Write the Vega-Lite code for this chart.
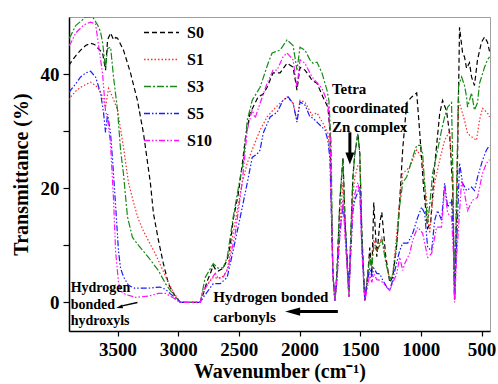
{
"$schema":"https://vega.github.io/schema/vega-lite/v6.json",
"width":421,"height":314,
"autosize":{"type":"none"},
"padding":{"left":69,"top":17,"right":8,"bottom":53},
"background":"white",
"config":{"view":{"stroke":"#a0a0a0","strokeWidth":1},"font":"Liberation Serif"},
"datasets":{
"notes":[
{"g":"zn","w":1733,"t":37.4,"txt":"Tetra"},{"g":"zn","w":1733,"t":34.0,"txt":"coordinated"},{"g":"zn","w":1733,"t":30.7,"txt":"Zn complex"},
{"g":"oh","w":3886,"t":2.5,"txt":"Hydrogen"},{"g":"oh","w":3886,"t":-0.5,"txt":"bonded"},{"g":"oh","w":3886,"t":-3.3,"txt":"hydroxyls"},
{"g":"co","w":2711,"t":0.9,"txt":"Hydrogen bonded"},{"g":"co","w":2711,"t":-2.5,"txt":"carbonyls"}],
"shafts":[
{"k":"thick","w":1585,"t":29.8,"w2":1585,"t2":26.0},
{"k":"thick","w":1684,"t":-1.6,"w2":2000,"t2":-1.6},
{"k":"thin","w":3336,"t":0.0,"w2":3462,"t2":-0.6}],
"heads":[{"k":"down","w":1585,"t":25.2},{"k":"left","w":2057,"t":-1.6},{"k":"leftdown","w":3478,"t":-0.8}],
"spec":[
{"s":"S0","w":3900,"t":41.5},{"s":"S0","w":3886,"t":42},{"s":"S0","w":3845,"t":43.2},{"s":"S0","w":3804,"t":44.2},{"s":"S0","w":3763,"t":45},{"s":"S0","w":3722,"t":45.4},{"s":"S0","w":3690,"t":45.2},{"s":"S0","w":3664,"t":44.6},{"s":"S0","w":3623,"t":43.7},{"s":"S0","w":3599,"t":40.7},{"s":"S0","w":3582,"t":46},{"s":"S0","w":3557,"t":47.2},{"s":"S0","w":3533,"t":46},{"s":"S0","w":3515,"t":46.4},{"s":"S0","w":3500,"t":46.3},{"s":"S0","w":3451,"t":44.2},{"s":"S0","w":3393,"t":40.2},{"s":"S0","w":3336,"t":35.4},{"s":"S0","w":3286,"t":29.6},{"s":"S0","w":3229,"t":20.9},{"s":"S0","w":3204,"t":15.6},{"s":"S0","w":3163,"t":10.9},{"s":"S0","w":3122,"t":6.8},{"s":"S0","w":3081,"t":3.3},{"s":"S0","w":3040,"t":1.6},{"s":"S0","w":2982,"t":0},{"s":"S0","w":2900,"t":0},{"s":"S0","w":2818,"t":0},{"s":"S0","w":2793,"t":1.5},{"s":"S0","w":2760,"t":3.8},{"s":"S0","w":2736,"t":5},{"s":"S0","w":2711,"t":6.5},{"s":"S0","w":2690,"t":5.7},{"s":"S0","w":2670,"t":5.5},{"s":"S0","w":2629,"t":6},{"s":"S0","w":2596,"t":7.5},{"s":"S0","w":2571,"t":10},{"s":"S0","w":2547,"t":14.5},{"s":"S0","w":2505,"t":19},{"s":"S0","w":2473,"t":24},{"s":"S0","w":2448,"t":28.5},{"s":"S0","w":2407,"t":33.2},{"s":"S0","w":2341,"t":36},{"s":"S0","w":2300,"t":36.5},{"s":"S0","w":2267,"t":37.7},{"s":"S0","w":2218,"t":40.2},{"s":"S0","w":2160,"t":40.2},{"s":"S0","w":2103,"t":41.9},{"s":"S0","w":2053,"t":41.2},{"s":"S0","w":2021,"t":37.2},{"s":"S0","w":1996,"t":41.2},{"s":"S0","w":1955,"t":40.7},{"s":"S0","w":1914,"t":39.5},{"s":"S0","w":1897,"t":38.9},{"s":"S0","w":1856,"t":38.4},{"s":"S0","w":1807,"t":36},{"s":"S0","w":1766,"t":34.2},{"s":"S0","w":1749,"t":30},{"s":"S0","w":1725,"t":5},{"s":"S0","w":1708,"t":0.3},{"s":"S0","w":1692,"t":5},{"s":"S0","w":1667,"t":18},{"s":"S0","w":1642,"t":25.4},{"s":"S0","w":1626,"t":15},{"s":"S0","w":1593,"t":1},{"s":"S0","w":1577,"t":12},{"s":"S0","w":1560,"t":22},{"s":"S0","w":1544,"t":26},{"s":"S0","w":1519,"t":29.6},{"s":"S0","w":1503,"t":26},{"s":"S0","w":1486,"t":12},{"s":"S0","w":1462,"t":0.3},{"s":"S0","w":1437,"t":5},{"s":"S0","w":1421,"t":9.6},{"s":"S0","w":1404,"t":5},{"s":"S0","w":1388,"t":17.5},{"s":"S0","w":1363,"t":8},{"s":"S0","w":1338,"t":14},{"s":"S0","w":1322,"t":15.8},{"s":"S0","w":1289,"t":8},{"s":"S0","w":1256,"t":3.5},{"s":"S0","w":1231,"t":4.5},{"s":"S0","w":1199,"t":10},{"s":"S0","w":1174,"t":18},{"s":"S0","w":1149,"t":27},{"s":"S0","w":1116,"t":35},{"s":"S0","w":1075,"t":36},{"s":"S0","w":1034,"t":36.7},{"s":"S0","w":1010,"t":30},{"s":"S0","w":977,"t":20},{"s":"S0","w":944,"t":13},{"s":"S0","w":919,"t":14},{"s":"S0","w":886,"t":24},{"s":"S0","w":845,"t":33},{"s":"S0","w":821,"t":35.4},{"s":"S0","w":788,"t":33.5},{"s":"S0","w":763,"t":29.6},{"s":"S0","w":738,"t":20},{"s":"S0","w":722,"t":0.5},{"s":"S0","w":705,"t":15},{"s":"S0","w":681,"t":48.2},{"s":"S0","w":656,"t":43.7},{"s":"S0","w":640,"t":43},{"s":"S0","w":623,"t":41},{"s":"S0","w":599,"t":42},{"s":"S0","w":582,"t":39.5},{"s":"S0","w":558,"t":38},{"s":"S0","w":533,"t":42.5},{"s":"S0","w":500,"t":45.6},{"s":"S0","w":475,"t":46.5},{"s":"S0","w":451,"t":45.6},{"s":"S0","w":434,"t":44},
{"s":"S1","w":3900,"t":35.5},{"s":"S1","w":3886,"t":36},{"s":"S1","w":3845,"t":37},{"s":"S1","w":3804,"t":37.7},{"s":"S1","w":3722,"t":38.6},{"s":"S1","w":3664,"t":37.7},{"s":"S1","w":3623,"t":36},{"s":"S1","w":3599,"t":34.2},{"s":"S1","w":3574,"t":37.5},{"s":"S1","w":3541,"t":36},{"s":"S1","w":3500,"t":33.7},{"s":"S1","w":3451,"t":27.2},{"s":"S1","w":3410,"t":21},{"s":"S1","w":3368,"t":17.5},{"s":"S1","w":3327,"t":14.5},{"s":"S1","w":3286,"t":12.5},{"s":"S1","w":3245,"t":10.8},{"s":"S1","w":3188,"t":8.5},{"s":"S1","w":3130,"t":5.8},{"s":"S1","w":3081,"t":3.5},{"s":"S1","w":3040,"t":1.8},{"s":"S1","w":2982,"t":0},{"s":"S1","w":2900,"t":0},{"s":"S1","w":2818,"t":0},{"s":"S1","w":2793,"t":2.1},{"s":"S1","w":2736,"t":3.8},{"s":"S1","w":2711,"t":4.4},{"s":"S1","w":2670,"t":4.2},{"s":"S1","w":2629,"t":4.6},{"s":"S1","w":2596,"t":5.6},{"s":"S1","w":2547,"t":12.1},{"s":"S1","w":2473,"t":20.9},{"s":"S1","w":2431,"t":24.4},{"s":"S1","w":2382,"t":27.2},{"s":"S1","w":2325,"t":30.2},{"s":"S1","w":2267,"t":32.5},{"s":"S1","w":2218,"t":33.7},{"s":"S1","w":2160,"t":34.9},{"s":"S1","w":2103,"t":36},{"s":"S1","w":2053,"t":34.9},{"s":"S1","w":2021,"t":31.9},{"s":"S1","w":1996,"t":35.4},{"s":"S1","w":1955,"t":35.1},{"s":"S1","w":1897,"t":32.8},{"s":"S1","w":1856,"t":33.2},{"s":"S1","w":1807,"t":31.4},{"s":"S1","w":1766,"t":29.6},{"s":"S1","w":1749,"t":26},{"s":"S1","w":1725,"t":5},{"s":"S1","w":1708,"t":0.3},{"s":"S1","w":1692,"t":4},{"s":"S1","w":1667,"t":14},{"s":"S1","w":1642,"t":21},{"s":"S1","w":1626,"t":13},{"s":"S1","w":1593,"t":1},{"s":"S1","w":1577,"t":10},{"s":"S1","w":1560,"t":19},{"s":"S1","w":1544,"t":22},{"s":"S1","w":1519,"t":24},{"s":"S1","w":1503,"t":24.4},{"s":"S1","w":1486,"t":10},{"s":"S1","w":1462,"t":0.3},{"s":"S1","w":1437,"t":5},{"s":"S1","w":1421,"t":8},{"s":"S1","w":1404,"t":7},{"s":"S1","w":1388,"t":11},{"s":"S1","w":1363,"t":9},{"s":"S1","w":1338,"t":10.5},{"s":"S1","w":1322,"t":11.5},{"s":"S1","w":1289,"t":7.5},{"s":"S1","w":1256,"t":4},{"s":"S1","w":1231,"t":5},{"s":"S1","w":1199,"t":12},{"s":"S1","w":1174,"t":18},{"s":"S1","w":1149,"t":22.6},{"s":"S1","w":1092,"t":23.7},{"s":"S1","w":1034,"t":26.7},{"s":"S1","w":993,"t":25.4},{"s":"S1","w":952,"t":17.9},{"s":"S1","w":927,"t":12.1},{"s":"S1","w":911,"t":16},{"s":"S1","w":886,"t":20.9},{"s":"S1","w":845,"t":24.9},{"s":"S1","w":804,"t":28.4},{"s":"S1","w":763,"t":30},{"s":"S1","w":738,"t":22},{"s":"S1","w":722,"t":0.5},{"s":"S1","w":705,"t":20},{"s":"S1","w":689,"t":35.4},{"s":"S1","w":664,"t":33.7},{"s":"S1","w":640,"t":31.9},{"s":"S1","w":615,"t":29.6},{"s":"S1","w":574,"t":28.9},{"s":"S1","w":541,"t":28.4},{"s":"S1","w":516,"t":32},{"s":"S1","w":492,"t":34},{"s":"S1","w":451,"t":33.2},{"s":"S1","w":434,"t":32.5},
{"s":"S3","w":3900,"t":46.3},{"s":"S3","w":3886,"t":46.7},{"s":"S3","w":3845,"t":48.5},{"s":"S3","w":3800,"t":49.3},{"s":"S3","w":3763,"t":50},{"s":"S3","w":3705,"t":50},{"s":"S3","w":3664,"t":48.6},{"s":"S3","w":3640,"t":47.4},{"s":"S3","w":3623,"t":45.5},{"s":"S3","w":3599,"t":41},{"s":"S3","w":3582,"t":44.5},{"s":"S3","w":3557,"t":44.7},{"s":"S3","w":3533,"t":39.5},{"s":"S3","w":3500,"t":33.7},{"s":"S3","w":3475,"t":26.7},{"s":"S3","w":3451,"t":22.5},{"s":"S3","w":3418,"t":15},{"s":"S3","w":3377,"t":11.4},{"s":"S3","w":3327,"t":10},{"s":"S3","w":3245,"t":7.9},{"s":"S3","w":3163,"t":5.6},{"s":"S3","w":3105,"t":3.3},{"s":"S3","w":3048,"t":1.6},{"s":"S3","w":2982,"t":0},{"s":"S3","w":2900,"t":0},{"s":"S3","w":2818,"t":0},{"s":"S3","w":2777,"t":4.4},{"s":"S3","w":2711,"t":6.8},{"s":"S3","w":2670,"t":6},{"s":"S3","w":2629,"t":6.1},{"s":"S3","w":2596,"t":7.9},{"s":"S3","w":2547,"t":14.9},{"s":"S3","w":2489,"t":21.9},{"s":"S3","w":2464,"t":24.5},{"s":"S3","w":2431,"t":31.9},{"s":"S3","w":2390,"t":35.4},{"s":"S3","w":2325,"t":37.7},{"s":"S3","w":2259,"t":41.9},{"s":"S3","w":2226,"t":43.7},{"s":"S3","w":2160,"t":44.2},{"s":"S3","w":2103,"t":46},{"s":"S3","w":2053,"t":45},{"s":"S3","w":2021,"t":40.7},{"s":"S3","w":1996,"t":44.7},{"s":"S3","w":1955,"t":44.2},{"s":"S3","w":1914,"t":42.5},{"s":"S3","w":1889,"t":41.9},{"s":"S3","w":1856,"t":42.1},{"s":"S3","w":1815,"t":40.2},{"s":"S3","w":1774,"t":37.2},{"s":"S3","w":1758,"t":35.4},{"s":"S3","w":1740,"t":28},{"s":"S3","w":1725,"t":5},{"s":"S3","w":1708,"t":0.3},{"s":"S3","w":1692,"t":5},{"s":"S3","w":1667,"t":18},{"s":"S3","w":1642,"t":24.9},{"s":"S3","w":1626,"t":15},{"s":"S3","w":1593,"t":1},{"s":"S3","w":1577,"t":12},{"s":"S3","w":1560,"t":22},{"s":"S3","w":1544,"t":26},{"s":"S3","w":1519,"t":29.6},{"s":"S3","w":1503,"t":26},{"s":"S3","w":1486,"t":12},{"s":"S3","w":1462,"t":0.3},{"s":"S3","w":1437,"t":5},{"s":"S3","w":1421,"t":8},{"s":"S3","w":1404,"t":6},{"s":"S3","w":1388,"t":10},{"s":"S3","w":1363,"t":9},{"s":"S3","w":1338,"t":10},{"s":"S3","w":1322,"t":11.2},{"s":"S3","w":1289,"t":7},{"s":"S3","w":1256,"t":4},{"s":"S3","w":1231,"t":5},{"s":"S3","w":1199,"t":10},{"s":"S3","w":1174,"t":17},{"s":"S3","w":1149,"t":21},{"s":"S3","w":1116,"t":22},{"s":"S3","w":1092,"t":23.7},{"s":"S3","w":1059,"t":26},{"s":"S3","w":1034,"t":27.5},{"s":"S3","w":1001,"t":27.5},{"s":"S3","w":985,"t":26},{"s":"S3","w":960,"t":18},{"s":"S3","w":944,"t":13.9},{"s":"S3","w":927,"t":17},{"s":"S3","w":903,"t":22.6},{"s":"S3","w":862,"t":26.7},{"s":"S3","w":829,"t":30.2},{"s":"S3","w":804,"t":32.5},{"s":"S3","w":779,"t":34.2},{"s":"S3","w":747,"t":35},{"s":"S3","w":738,"t":25},{"s":"S3","w":722,"t":0.5},{"s":"S3","w":705,"t":20},{"s":"S3","w":689,"t":38},{"s":"S3","w":664,"t":39.5},{"s":"S3","w":640,"t":38},{"s":"S3","w":623,"t":36},{"s":"S3","w":615,"t":34.2},{"s":"S3","w":582,"t":36.7},{"s":"S3","w":558,"t":33.7},{"s":"S3","w":533,"t":35},{"s":"S3","w":516,"t":38.4},{"s":"S3","w":475,"t":41.2},{"s":"S3","w":451,"t":42.5},{"s":"S3","w":434,"t":43},
{"s":"S5","w":3900,"t":36.8},{"s":"S5","w":3886,"t":37.2},{"s":"S5","w":3845,"t":38.3},{"s":"S5","w":3804,"t":39.5},{"s":"S5","w":3763,"t":40.2},{"s":"S5","w":3722,"t":40.5},{"s":"S5","w":3681,"t":39.5},{"s":"S5","w":3640,"t":36.7},{"s":"S5","w":3615,"t":33.2},{"s":"S5","w":3599,"t":29.8},{"s":"S5","w":3582,"t":33},{"s":"S5","w":3557,"t":29.5},{"s":"S5","w":3541,"t":25},{"s":"S5","w":3516,"t":17},{"s":"S5","w":3492,"t":9},{"s":"S5","w":3475,"t":6},{"s":"S5","w":3451,"t":4.5},{"s":"S5","w":3410,"t":3},{"s":"S5","w":3360,"t":2.5},{"s":"S5","w":3245,"t":2.5},{"s":"S5","w":3150,"t":2.7},{"s":"S5","w":3105,"t":2.3},{"s":"S5","w":3064,"t":1.5},{"s":"S5","w":3023,"t":0.8},{"s":"S5","w":2982,"t":0},{"s":"S5","w":2900,"t":0},{"s":"S5","w":2818,"t":0},{"s":"S5","w":2793,"t":0.9},{"s":"S5","w":2711,"t":3.3},{"s":"S5","w":2653,"t":3.3},{"s":"S5","w":2596,"t":4.4},{"s":"S5","w":2547,"t":9.1},{"s":"S5","w":2489,"t":14.9},{"s":"S5","w":2431,"t":20.9},{"s":"S5","w":2390,"t":25.4},{"s":"S5","w":2349,"t":26},{"s":"S5","w":2325,"t":26.7},{"s":"S5","w":2300,"t":29.6},{"s":"S5","w":2242,"t":32.5},{"s":"S5","w":2185,"t":33.3},{"s":"S5","w":2136,"t":35.4},{"s":"S5","w":2094,"t":36},{"s":"S5","w":2053,"t":34.9},{"s":"S5","w":2021,"t":31.6},{"s":"S5","w":1996,"t":35.1},{"s":"S5","w":1955,"t":34.6},{"s":"S5","w":1914,"t":32.5},{"s":"S5","w":1889,"t":32.3},{"s":"S5","w":1848,"t":31.4},{"s":"S5","w":1790,"t":30.2},{"s":"S5","w":1766,"t":28.4},{"s":"S5","w":1749,"t":25},{"s":"S5","w":1725,"t":5},{"s":"S5","w":1708,"t":0.3},{"s":"S5","w":1692,"t":4},{"s":"S5","w":1667,"t":12},{"s":"S5","w":1642,"t":17},{"s":"S5","w":1626,"t":14},{"s":"S5","w":1593,"t":2.6},{"s":"S5","w":1577,"t":9},{"s":"S5","w":1560,"t":16},{"s":"S5","w":1544,"t":18},{"s":"S5","w":1503,"t":20.2},{"s":"S5","w":1486,"t":10},{"s":"S5","w":1462,"t":0.3},{"s":"S5","w":1437,"t":4},{"s":"S5","w":1421,"t":6},{"s":"S5","w":1404,"t":4.5},{"s":"S5","w":1388,"t":6},{"s":"S5","w":1363,"t":5.1},{"s":"S5","w":1338,"t":5},{"s":"S5","w":1314,"t":3.9},{"s":"S5","w":1289,"t":3},{"s":"S5","w":1256,"t":2.1},{"s":"S5","w":1231,"t":4},{"s":"S5","w":1199,"t":7},{"s":"S5","w":1174,"t":9.1},{"s":"S5","w":1149,"t":10.4},{"s":"S5","w":1108,"t":10.4},{"s":"S5","w":1067,"t":12.1},{"s":"S5","w":1026,"t":14.9},{"s":"S5","w":993,"t":16.7},{"s":"S5","w":968,"t":15.6},{"s":"S5","w":944,"t":9.6},{"s":"S5","w":911,"t":9.1},{"s":"S5","w":886,"t":14.4},{"s":"S5","w":862,"t":16.1},{"s":"S5","w":829,"t":14.4},{"s":"S5","w":804,"t":20.9},{"s":"S5","w":779,"t":16.7},{"s":"S5","w":747,"t":17.9},{"s":"S5","w":730,"t":10},{"s":"S5","w":722,"t":0.5},{"s":"S5","w":705,"t":10},{"s":"S5","w":681,"t":24.4},{"s":"S5","w":656,"t":20.9},{"s":"S5","w":623,"t":19.6},{"s":"S5","w":582,"t":20.2},{"s":"S5","w":558,"t":19.6},{"s":"S5","w":533,"t":21.9},{"s":"S5","w":492,"t":24.9},{"s":"S5","w":459,"t":26.7},{"s":"S5","w":434,"t":27.5},
{"s":"S10","w":3900,"t":45},{"s":"S10","w":3886,"t":45.4},{"s":"S10","w":3845,"t":47.2},{"s":"S10","w":3779,"t":48.6},{"s":"S10","w":3722,"t":49.1},{"s":"S10","w":3681,"t":48.8},{"s":"S10","w":3656,"t":45},{"s":"S10","w":3623,"t":40},{"s":"S10","w":3599,"t":33.5},{"s":"S10","w":3582,"t":32.3},{"s":"S10","w":3557,"t":27.5},{"s":"S10","w":3533,"t":18},{"s":"S10","w":3516,"t":9},{"s":"S10","w":3492,"t":3.5},{"s":"S10","w":3475,"t":2},{"s":"S10","w":3434,"t":1.4},{"s":"S10","w":3352,"t":0.9},{"s":"S10","w":3245,"t":1.1},{"s":"S10","w":3163,"t":1.6},{"s":"S10","w":3105,"t":1.6},{"s":"S10","w":3048,"t":0.9},{"s":"S10","w":2982,"t":0},{"s":"S10","w":2900,"t":0},{"s":"S10","w":2818,"t":0},{"s":"S10","w":2801,"t":1.6},{"s":"S10","w":2736,"t":3.9},{"s":"S10","w":2694,"t":5.1},{"s":"S10","w":2670,"t":4.2},{"s":"S10","w":2629,"t":4.4},{"s":"S10","w":2588,"t":6.1},{"s":"S10","w":2530,"t":12.1},{"s":"S10","w":2473,"t":20.9},{"s":"S10","w":2431,"t":30.2},{"s":"S10","w":2390,"t":33.7},{"s":"S10","w":2366,"t":32.3},{"s":"S10","w":2325,"t":34.9},{"s":"S10","w":2267,"t":38.4},{"s":"S10","w":2218,"t":40.7},{"s":"S10","w":2185,"t":40.7},{"s":"S10","w":2136,"t":43},{"s":"S10","w":2103,"t":43.7},{"s":"S10","w":2053,"t":42.5},{"s":"S10","w":2021,"t":37.7},{"s":"S10","w":1996,"t":42.5},{"s":"S10","w":1955,"t":41.9},{"s":"S10","w":1897,"t":39.5},{"s":"S10","w":1873,"t":38.9},{"s":"S10","w":1815,"t":37.5},{"s":"S10","w":1766,"t":34.9},{"s":"S10","w":1749,"t":30},{"s":"S10","w":1725,"t":5},{"s":"S10","w":1708,"t":0.3},{"s":"S10","w":1692,"t":4},{"s":"S10","w":1667,"t":12},{"s":"S10","w":1642,"t":18},{"s":"S10","w":1626,"t":12},{"s":"S10","w":1593,"t":1},{"s":"S10","w":1577,"t":9},{"s":"S10","w":1560,"t":17},{"s":"S10","w":1544,"t":19},{"s":"S10","w":1519,"t":21},{"s":"S10","w":1503,"t":19},{"s":"S10","w":1486,"t":9},{"s":"S10","w":1462,"t":0.3},{"s":"S10","w":1437,"t":3},{"s":"S10","w":1421,"t":5},{"s":"S10","w":1404,"t":3.5},{"s":"S10","w":1388,"t":5},{"s":"S10","w":1363,"t":4},{"s":"S10","w":1338,"t":3.9},{"s":"S10","w":1314,"t":3.5},{"s":"S10","w":1289,"t":2.8},{"s":"S10","w":1256,"t":2.1},{"s":"S10","w":1231,"t":3.5},{"s":"S10","w":1199,"t":5},{"s":"S10","w":1174,"t":7.9},{"s":"S10","w":1149,"t":5.6},{"s":"S10","w":1133,"t":6.8},{"s":"S10","w":1092,"t":8.6},{"s":"S10","w":1067,"t":10.9},{"s":"S10","w":1026,"t":13.2},{"s":"S10","w":985,"t":12.1},{"s":"S10","w":944,"t":7.9},{"s":"S10","w":911,"t":8.6},{"s":"S10","w":870,"t":13.2},{"s":"S10","w":829,"t":13.2},{"s":"S10","w":804,"t":20.2},{"s":"S10","w":779,"t":15.6},{"s":"S10","w":747,"t":15},{"s":"S10","w":730,"t":8},{"s":"S10","w":722,"t":0},{"s":"S10","w":705,"t":8},{"s":"S10","w":664,"t":21.4},{"s":"S10","w":640,"t":19.1},{"s":"S10","w":615,"t":16.1},{"s":"S10","w":574,"t":17.9},{"s":"S10","w":533,"t":18.4},{"s":"S10","w":492,"t":22.6},{"s":"S10","w":459,"t":24.4},{"s":"S10","w":434,"t":25}
]},
"layer":[
{"data":{"name":"spec"},
 "mark":{"type":"line","strokeWidth":1.2,"clip":true},
 "encoding":{
  "x":{"field":"w","type":"quantitative","title":"Wavenumber (cm⁻¹)",
   "scale":{"domain":[430,3900],"reverse":true,"nice":false,"zero":false},
   "axis":{"values":[3750,3500,3250,3000,2750,2500,2250,2000,1750,1500,1250,1000,750,500],"labelExpr":"datum.value % 500 == 0 ? format(datum.value,'d') : ''","grid":false,"domainColor":"black","domainWidth":1.5,"tickColor":"black","tickWidth":1.2,"tickSize":5,"labelFont":"Liberation Serif","labelFontWeight":"bold","labelFontSize":19,"labelColor":"black","labelPadding":4,"titleFont":"Liberation Serif","titleFontWeight":"bold","titleFontSize":20,"titleColor":"black","titlePadding":2}},
  "y":{"field":"t","type":"quantitative","title":"Transmittance (%)",
   "scale":{"domain":[-5,50],"nice":false,"zero":false},
   "axis":{"values":[0,10,20,30,40],"labelExpr":"datum.value % 20 == 0 ? format(datum.value,'d') : ''","grid":false,"domainColor":"black","domainWidth":1.5,"tickColor":"black","tickWidth":1.2,"tickSize":6,"labelFont":"Liberation Serif","labelFontWeight":"bold","labelFontSize":19,"labelColor":"black","labelPadding":4,"titleFont":"Liberation Serif","titleFontWeight":"bold","titleFontSize":20,"titleColor":"black","titlePadding":9}},
  "color":{"field":"s","type":"nominal","title":null,
   "scale":{"domain":["S0","S1","S3","S5","S10"],"range":["#000000","#ff2a2a","#158a15","#1a1aff","#ff10ff"]},
   "legend":{"orient":"none","legendX":74,"legendY":-3,"symbolType":"stroke","symbolSize":1225,"symbolStrokeWidth":1.3,"labelFont":"Liberation Serif","labelFontWeight":"bold","labelFontSize":16,"labelColor":"black","rowPadding":-7,"padding":0,"labelOffset":7}},
  "strokeDash":{"field":"s","type":"nominal","title":null,
   "scale":{"domain":["S0","S1","S3","S5","S10"],"range":[[5,3],[1.5,2],[7,2,2,2],[6,2,1.5,2,1.5,2],[6,2,1.5,2,1.5,2]]},
   "legend":{"orient":"none","legendX":74,"legendY":-3,"symbolType":"stroke","symbolSize":1225,"symbolStrokeWidth":1.3,"labelFont":"Liberation Serif","labelFontWeight":"bold","labelFontSize":16,"labelColor":"black","rowPadding":-7,"padding":0,"labelOffset":7}}
 }},
{"data":{"name":"notes"},"transform":[{"filter":"datum.g != 'oh'"}],
 "mark":{"type":"text","align":"left","baseline":"middle","font":"Liberation Serif","fontWeight":"bold","fontSize":15,"color":"black"},
 "encoding":{"x":{"field":"w","type":"quantitative"},"y":{"field":"t","type":"quantitative"},"text":{"field":"txt"}}},
{"data":{"name":"notes"},"transform":[{"filter":"datum.g == 'oh'"}],
 "mark":{"type":"text","align":"left","baseline":"middle","font":"Liberation Serif","fontWeight":"bold","fontSize":14,"color":"black"},
 "encoding":{"x":{"field":"w","type":"quantitative"},"y":{"field":"t","type":"quantitative"},"text":{"field":"txt"}}},
{"data":{"name":"shafts"},"transform":[{"filter":"datum.k == 'thick'"}],
 "mark":{"type":"rule","strokeWidth":3,"color":"black"},
 "encoding":{"x":{"field":"w","type":"quantitative"},"y":{"field":"t","type":"quantitative"},"x2":{"field":"w2"},"y2":{"field":"t2"}}},
{"data":{"name":"shafts"},"transform":[{"filter":"datum.k == 'thin'"}],
 "mark":{"type":"rule","strokeWidth":1.5,"color":"black"},
 "encoding":{"x":{"field":"w","type":"quantitative"},"y":{"field":"t","type":"quantitative"},"x2":{"field":"w2"},"y2":{"field":"t2"}}},
{"data":{"name":"heads"},"transform":[{"filter":"datum.k == 'down'"}],
 "mark":{"type":"point","shape":"M0,1L-0.75,-1L0.75,-1Z","size":144,"filled":true,"color":"black","opacity":1,"strokeWidth":0},
 "encoding":{"x":{"field":"w","type":"quantitative"},"y":{"field":"t","type":"quantitative"}}},
{"data":{"name":"heads"},"transform":[{"filter":"datum.k == 'left'"}],
 "mark":{"type":"point","shape":"M-1,0L1,-0.55L1,0.55Z","size":225,"filled":true,"color":"black","opacity":1,"strokeWidth":0},
 "encoding":{"x":{"field":"w","type":"quantitative"},"y":{"field":"t","type":"quantitative"}}},
{"data":{"name":"heads"},"transform":[{"filter":"datum.k == 'leftdown'"}],
 "mark":{"type":"point","shape":"M-1,0.26L0.49,-0.6L0.71,0.28Z","size":64,"filled":true,"color":"black","opacity":1,"strokeWidth":0},
 "encoding":{"x":{"field":"w","type":"quantitative"},"y":{"field":"t","type":"quantitative"}}}
]
}
